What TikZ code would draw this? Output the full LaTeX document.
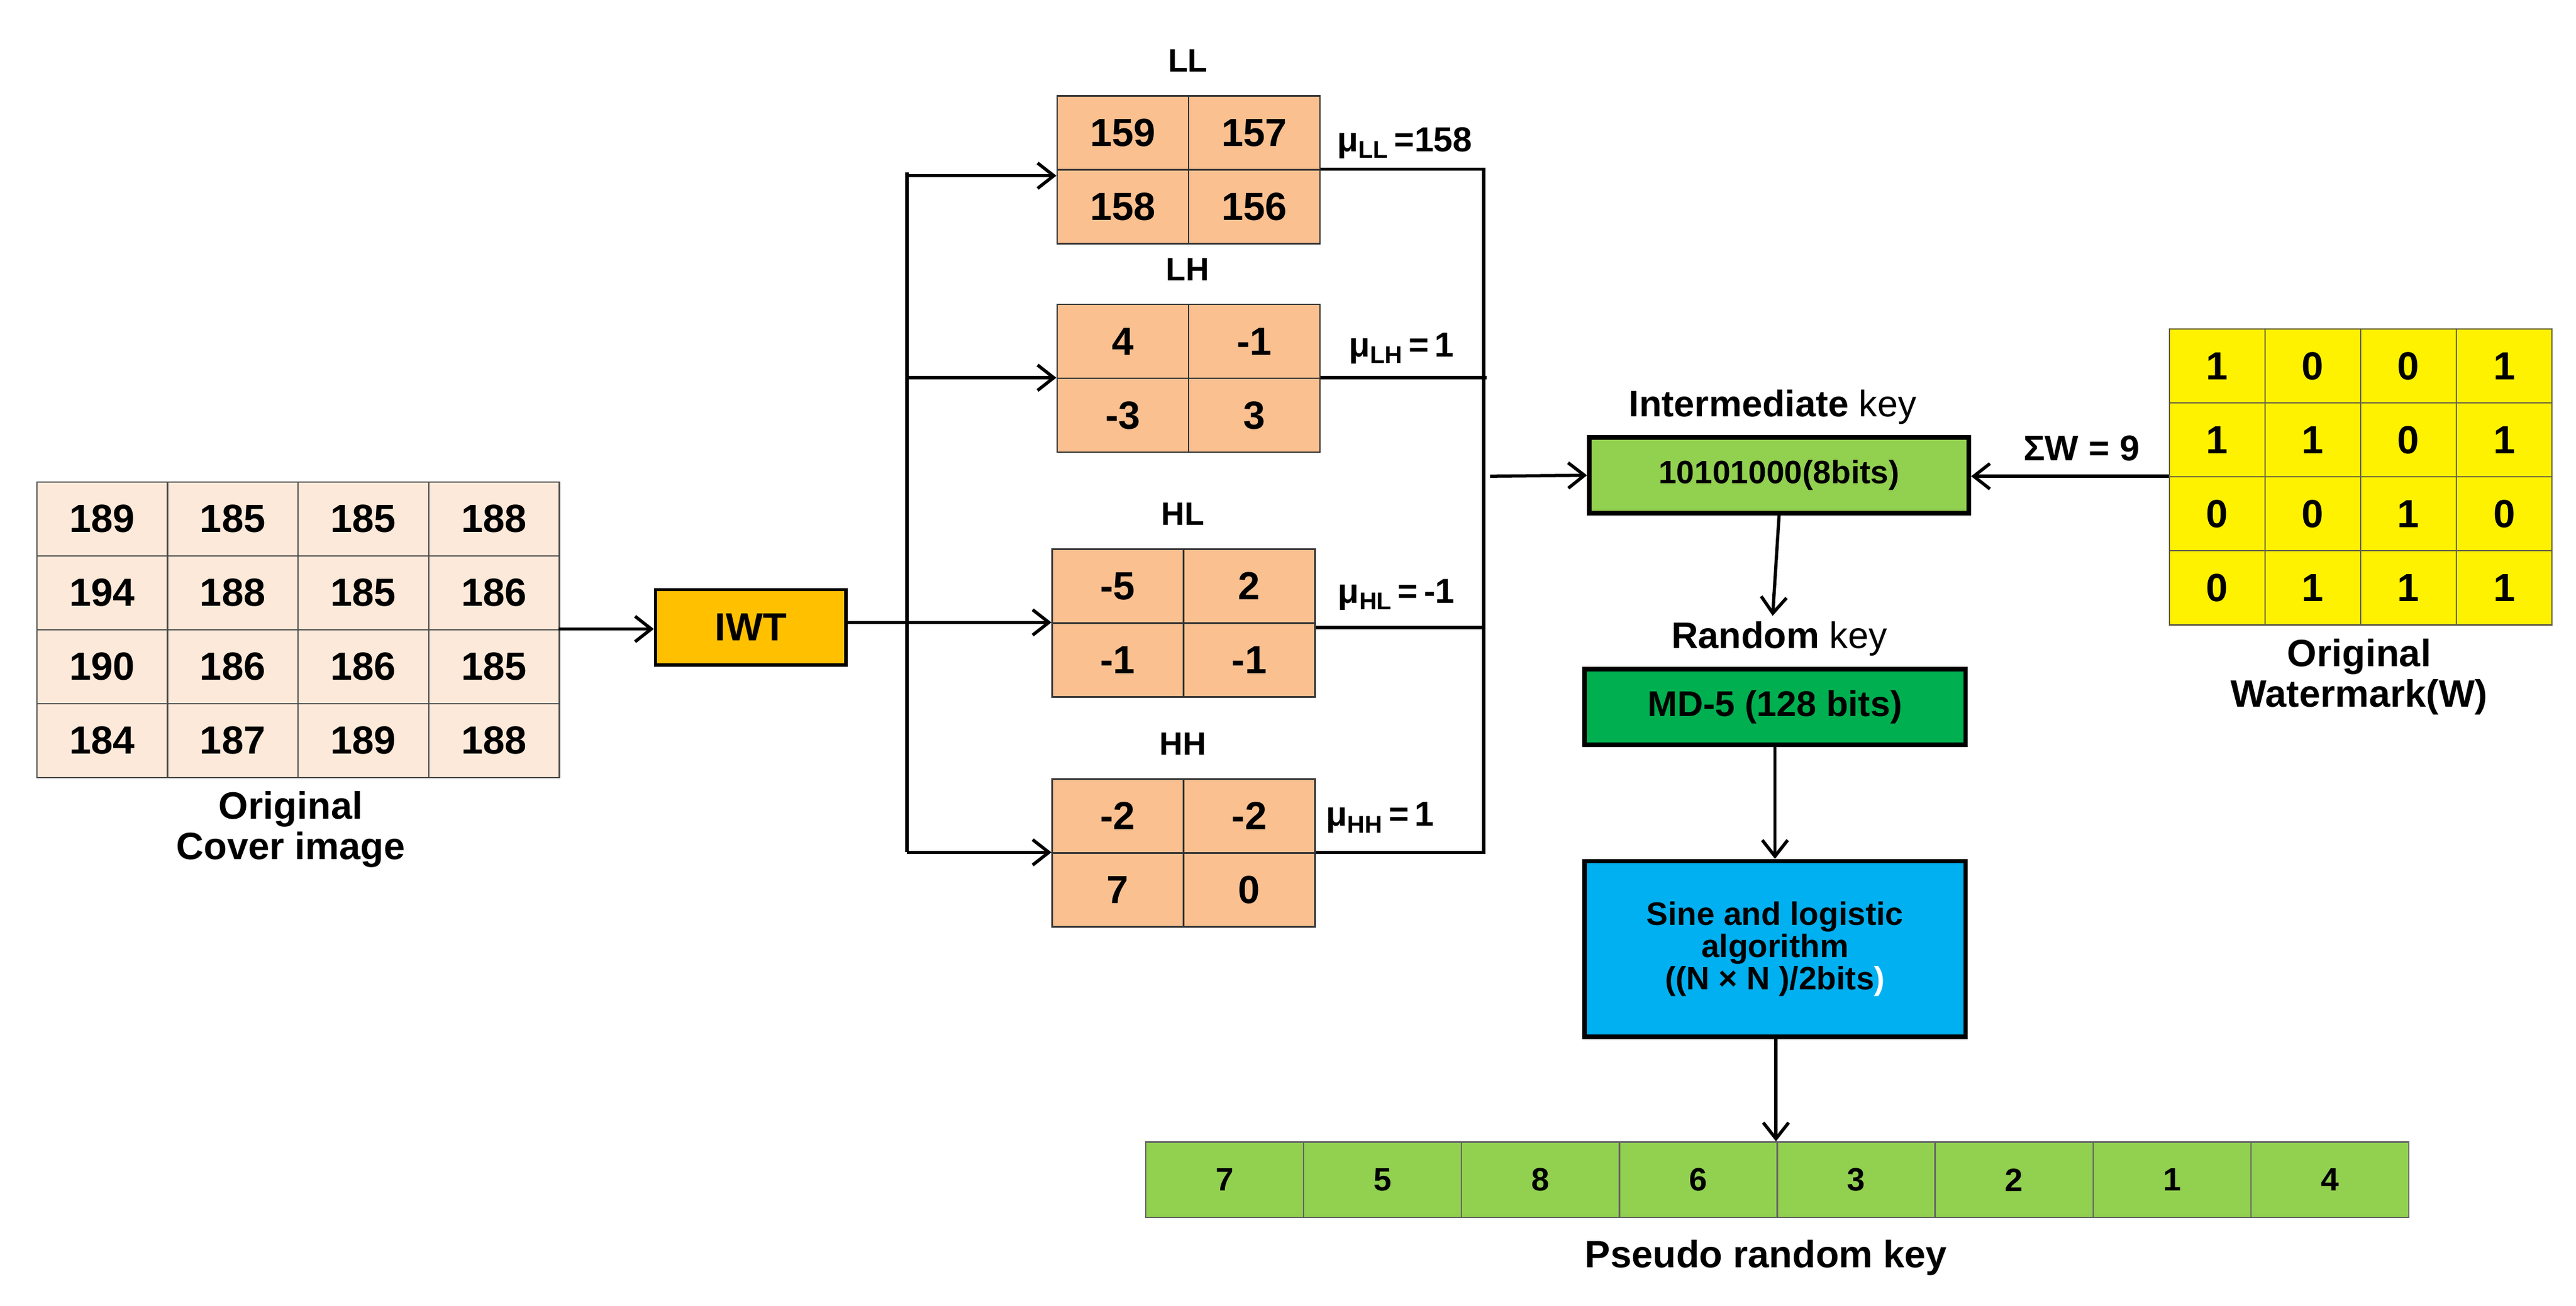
\documentclass[tikz,border=0pt]{standalone}
\usepackage{fontspec}
\setmainfont{Liberation Sans}
\usetikzlibrary{arrows.meta}
\definecolor{peach}{HTML}{FDE9D9}
\definecolor{tan}{HTML}{FAC090}
\definecolor{iwt}{HTML}{FFC000}
\definecolor{lgreen}{HTML}{92D050}
\definecolor{dgreen}{HTML}{00B050}
\definecolor{sky}{HTML}{00B0F0}
\newcommand{\fs}[1]{\fontsize{#1pt}{#1pt}\selectfont}
\begin{document}
\begin{tikzpicture}[x=0.05cm,y=-0.05cm,
  cell/.style={draw=#1,line width=1.2pt,inner sep=0pt,anchor=north west,font=\fs{34}\bfseries},
  ln/.style={line width=2.8pt},
  ar/.style={line width=2.8pt,-{Straight Barb[length=14pt,width=22pt,line width=2.8pt]}},
  box/.style={draw,line width=4pt,inner sep=0pt,anchor=north west,align=center},
  ttl/.style={font=\fs{30}\bfseries,inner sep=0pt}]
\useasboundingbox (0,0) rectangle (1568,795);
% cover grid
\foreach \r/\vals in {0/{189,185,185,188},1/{194,188,185,186},2/{190,186,186,185},3/{184,187,189,188}}{
  \foreach \v [count=\c from 0] in \vals{
    \node[cell=gray!60!black,fill=peach,minimum width=79.5*0.05cm,minimum height=45*0.05cm] (cv\r\c) at (22+79.5*\c,293+45*\r) {\v};
  }}
\node[ttl,font=\fs{33}\bfseries,align=center] (covl) at (177,505) {Original\\[2pt]Cover image};
% IWT
\node[box,line width=3pt,fill=iwt,minimum width=116*0.05cm,minimum height=46*0.05cm,font=\fs{34}\bfseries] (iwt) at (398,358) {IWT};
\draw[ar] (340,383) -- (iwt.west|-0,383);
% subbands
\foreach \nm/\x/\y/\a/\b/\cc/\d in {LL/643/58/159/157/158/156,LH/643/185/4/-1/-3/3,HL/640/334/-5/2/-1/-1,HH/640/474/-2/-2/7/0}{
  \node[cell=gray!40!black,fill=tan,minimum width=80*0.05cm,minimum height=45*0.05cm] (\nm a) at (\x,\y) {\a};
  \node[cell=gray!40!black,fill=tan,minimum width=80*0.05cm,minimum height=45*0.05cm] (\nm b) at (\x+80,\y) {\b};
  \node[cell=gray!40!black,fill=tan,minimum width=80*0.05cm,minimum height=45*0.05cm] (\nm c) at (\x,\y+45) {\cc};
  \node[cell=gray!40!black,fill=tan,minimum width=80*0.05cm,minimum height=45*0.05cm] (\nm d) at (\x+80,\y+45) {\d};
  \node[ttl,font=\fs{28}\bfseries] (\nm t) at (\x+80,\y-21) {\nm};
}
% left trunk
\coordinate (tj) at (552,379);
\draw[ln] (iwt.east|-0,379) -- (tj);
\draw[ln] (552,105) -- (552,519);
\draw[ar] (552,107) -- (LLc.north west|-0,107);
\draw[ar] (552,230) -- (LHc.north west|-0,230);
\draw[ar] (552,379) -- (HLc.north west|-0,379);
\draw[ar] (552,519) -- (HHc.north west|-0,519);
% right trunk
\draw[ln] (LLd.north east|-0,103) -- (903,103);
\draw[ln] (LHd.north east|-0,230) -- (905,230);
\draw[ln] (HLd.north east|-0,382) -- (903,382);
\draw[ln] (HHd.north east|-0,519) -- (903,519);
\draw[ln] (903,102) -- (903,520);
\node[inner sep=0pt,font=\fs{30}\bfseries] (mll) at (855,87) {μ\textsubscript{LL}\,=158};
\node[inner sep=0pt,font=\fs{30}\bfseries] (mlh) at (853,212) {μ\textsubscript{LH}\,=\,1};
\node[inner sep=0pt,font=\fs{30}\bfseries] (mhl) at (850,362) {μ\textsubscript{HL}\,=\,-1};
\node[inner sep=0pt,font=\fs{30}\bfseries] (mhh) at (840,498) {μ\textsubscript{HH}\,=\,1};
% intermediate key
\node[box,fill=lgreen,minimum width=231*0.05cm,minimum height=46*0.05cm,font=\fs{28}\bfseries] (ik) at (966,265) {10101000(8bits)};
\draw[ar] (907,290) -- (ik.west);
\node[inner sep=0pt,font=\fs{32}] (ikt) at (1079,248) {\textbf{Intermediate} key};
% watermark
\foreach \r/\vals in {0/{1,0,0,1},1/{1,1,0,1},2/{0,0,1,0},3/{0,1,1,1}}{
  \foreach \v [count=\c from 0] in \vals{
    \node[cell=black!70!yellow,fill=yellow,minimum width=58.25*0.05cm,minimum height=45*0.05cm] (w\r\c) at (1320+58.25*\c,200+45*\r) {\v};
  }}
\node[ttl,font=\fs{33}\bfseries,align=center] (wl) at (1436,412) {Original\\[2pt]Watermark(W)};
\draw[ar] (w20.north west) -- (ik.east|-0,290);
\node[inner sep=0pt,font=\fs{31}\bfseries] (sw) at (1267,273) {ΣW = 9};
% random key
\node[inner sep=0pt,font=\fs{32}] (rkt) at (1083,389) {\textbf{Random} key};
\node[box,fill=dgreen,minimum width=232*0.05cm,minimum height=46*0.05cm,font=\fs{31}\bfseries] (md) at (963,406) {MD-5 (128 bits)};
\draw[ar] (ik.south) -- (1079,375);
\node[box,fill=sky,minimum width=232*0.05cm,minimum height=107*0.05cm,font=\fs{28}\bfseries] (sl) at (963,523) {Sine and logistic\\algorithm\\((N × N )/2bits\textcolor{white}{)}};
\draw[ar] (md.south) -- (sl.north);
% pseudo key strip
\foreach \v [count=\c from 0] in {7,5,8,6,3,2,1,4}{
  \node[cell=gray!80!black,fill=lgreen,minimum width=96.1*0.05cm,minimum height=46*0.05cm,font=\fs{28}\bfseries] (p\c) at (697+96.1*\c,695) {\v};
}
\draw[ar] (sl.south-|1081,0) -- (1081,695);
\node[ttl,font=\fs{33}\bfseries] (pkt) at (1075,766) {Pseudo random key};
\end{tikzpicture}
\end{document}
